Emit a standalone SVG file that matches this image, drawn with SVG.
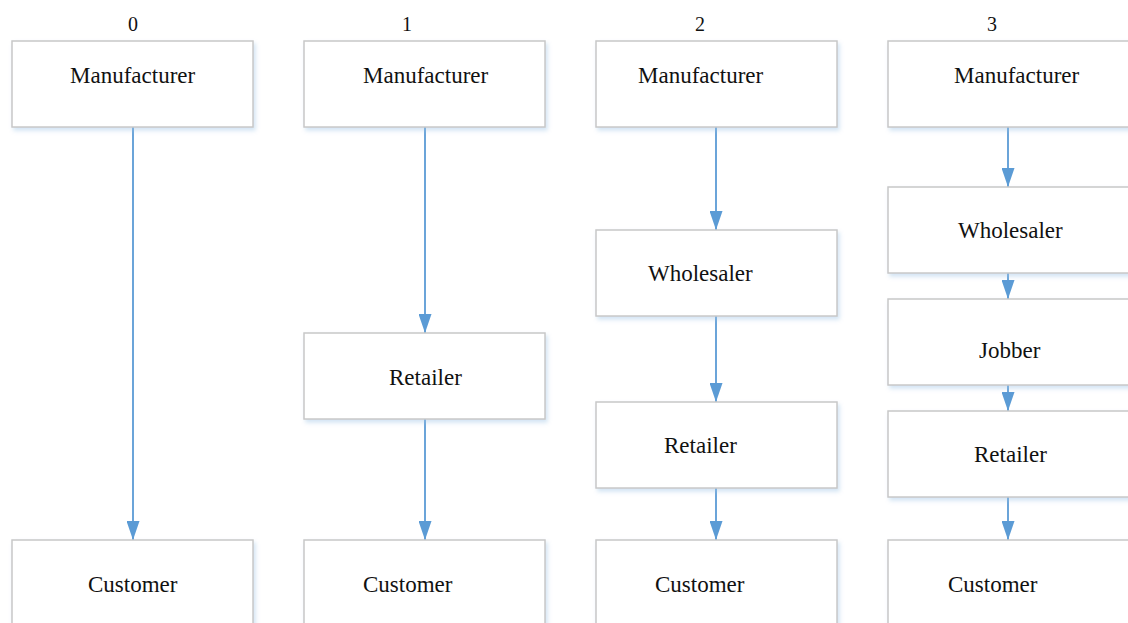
<svg xmlns="http://www.w3.org/2000/svg" width="1128" height="623" viewBox="0 0 1128 623">
<defs>
<filter id="sh" x="-10%" y="-10%" width="125%" height="130%">
<feDropShadow dx="2" dy="3" stdDeviation="2" flood-color="#9dc3e6" flood-opacity="0.45"/>
</filter>
<marker id="ah" markerUnits="userSpaceOnUse" markerWidth="20" markerHeight="13" refX="19" refY="6.5" orient="auto" viewBox="0 0 20 13">
<path d="M0,0 L19,6.5 L0,13 Z" fill="#5b9bd5"/>
</marker>
<style>
.box{fill:#fff;stroke:#c8c8c8;stroke-width:1.5;filter:url(#sh)}
.t{font-family:"Liberation Serif","Times New Roman",serif;font-size:23px;fill:#111}
.h{font-family:"Liberation Serif","Times New Roman",serif;font-size:20px;fill:#111;text-anchor:middle}
.c{stroke:#5b9bd5;stroke-width:1.8;fill:none;marker-end:url(#ah)}
</style>
</defs>
<rect width="1128" height="623" fill="#fff"/>
<g id="headers">
<text class="h" x="133" y="31">0</text>
<text class="h" x="407" y="31">1</text>
<text class="h" x="700" y="31">2</text>
<text class="h" x="992" y="31">3</text>
</g>
<g id="connectors">
<path class="c" d="M133,127 V540"/>
<path class="c" d="M425,127 V333"/>
<path class="c" d="M425,419 V540"/>
<path class="c" d="M716,127 V230"/>
<path class="c" d="M716,316 V402"/>
<path class="c" d="M716,488 V540"/>
<path class="c" d="M1008,127 V187"/>
<path class="c" d="M1008,273 V299"/>
<path class="c" d="M1008,385 V411"/>
<path class="c" d="M1008,497 V540"/>
</g>
<g id="c0-manufacturer"><rect class="box" x="12" y="41" width="241" height="86"/><text class="t" x="70" y="83">Manufacturer</text></g>
<g id="c0-customer"><rect class="box" x="12" y="540" width="241" height="90"/><text class="t" x="88" y="592">Customer</text></g>
<g id="c1-manufacturer"><rect class="box" x="304" y="41" width="241" height="86"/><text class="t" x="363" y="83">Manufacturer</text></g>
<g id="c1-retailer"><rect class="box" x="304" y="333" width="241" height="86"/><text class="t" x="389" y="385">Retailer</text></g>
<g id="c1-customer"><rect class="box" x="304" y="540" width="241" height="90"/><text class="t" x="363" y="592">Customer</text></g>
<g id="c2-manufacturer"><rect class="box" x="596" y="41" width="241" height="86"/><text class="t" x="638" y="83">Manufacturer</text></g>
<g id="c2-wholesaler"><rect class="box" x="596" y="230" width="241" height="86"/><text class="t" x="648" y="281">Wholesaler</text></g>
<g id="c2-retailer"><rect class="box" x="596" y="402" width="241" height="86"/><text class="t" x="664" y="453">Retailer</text></g>
<g id="c2-customer"><rect class="box" x="596" y="540" width="241" height="90"/><text class="t" x="655" y="592">Customer</text></g>
<g id="c3-manufacturer"><rect class="box" x="888" y="41" width="241" height="86"/><text class="t" x="954" y="83">Manufacturer</text></g>
<g id="c3-wholesaler"><rect class="box" x="888" y="187" width="241" height="86"/><text class="t" x="958" y="238">Wholesaler</text></g>
<g id="c3-jobber"><rect class="box" x="888" y="299" width="241" height="86"/><text class="t" x="979" y="358">Jobber</text></g>
<g id="c3-retailer"><rect class="box" x="888" y="411" width="241" height="86"/><text class="t" x="974" y="462">Retailer</text></g>
<g id="c3-customer"><rect class="box" x="888" y="540" width="241" height="90"/><text class="t" x="948" y="592">Customer</text></g>
</svg>
